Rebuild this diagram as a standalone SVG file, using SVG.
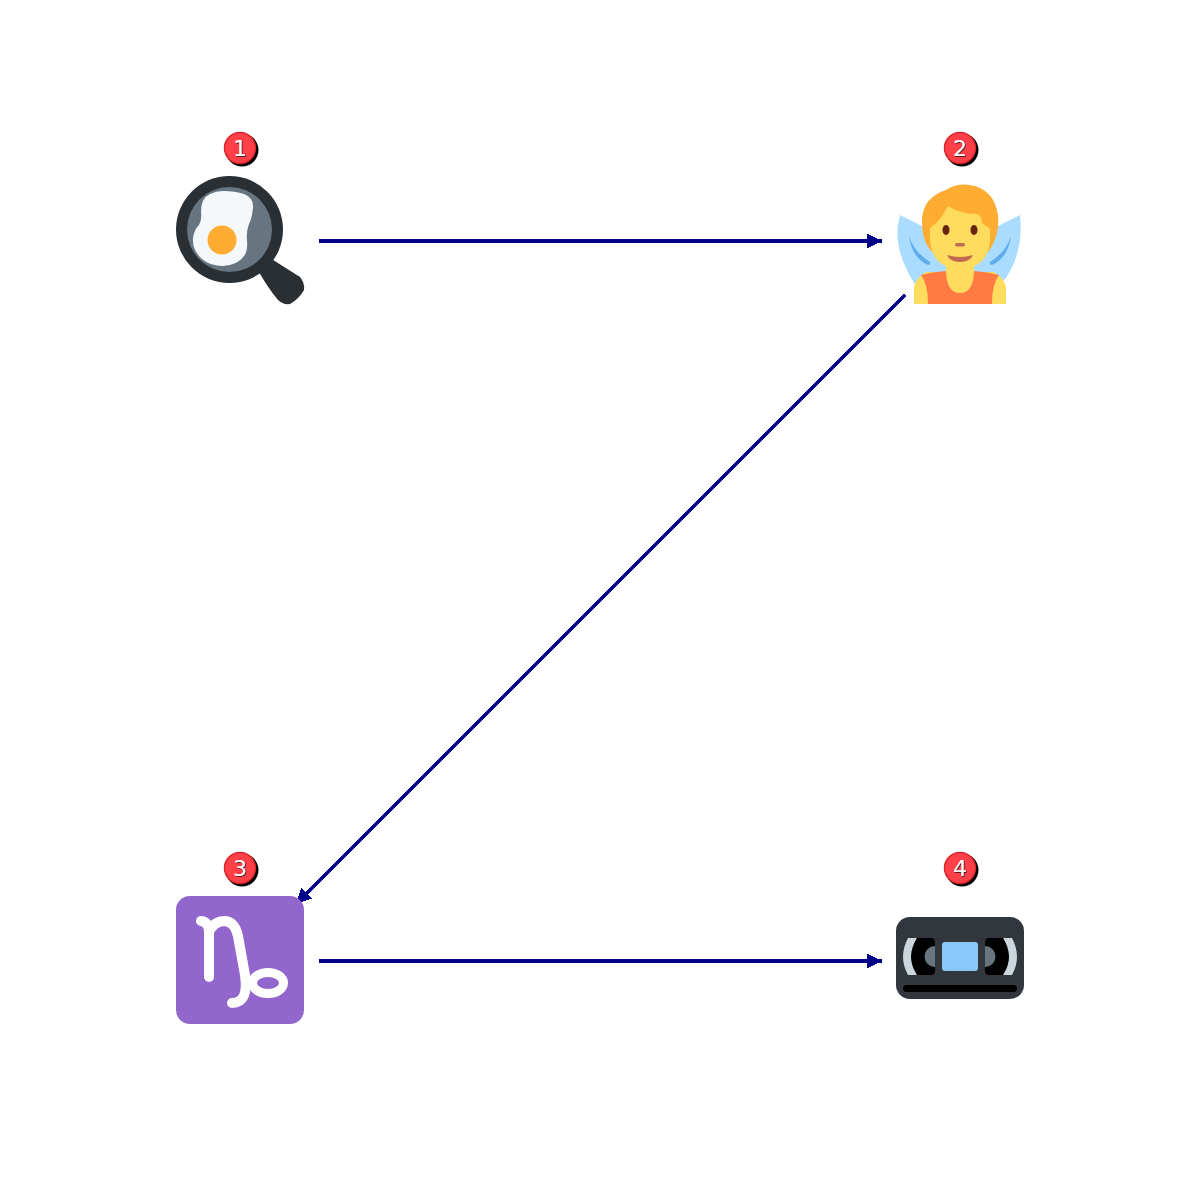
<svg xmlns="http://www.w3.org/2000/svg" width="1200" height="1200" viewBox="0 0 1200 1200">
<style>
.edge{fill:none;stroke:#00008b;stroke-width:3.5;shape-rendering:crispEdges}
.head{fill:#00008b;shape-rendering:crispEdges}
.badge{fill:#ff4049;stroke:#d9242c;stroke-width:1.5}
.shadow{fill:#000}
.num{font:22px "DejaVu Sans",sans-serif;fill:#fff;text-anchor:middle;filter:url(#ts)}
</style>
<defs>
<filter id="ts" x="-50%" y="-50%" width="200%" height="200%"><feDropShadow dx="0.800" dy="0.800" stdDeviation="0.300" flood-color="#000" flood-opacity="0.800"/></filter>
<marker id="arrow" markerUnits="userSpaceOnUse" markerWidth="16" markerHeight="16" refX="15" refY="7.500" orient="auto"><path class="head" d="M0 0L15 7.500L0 15z"/></marker>
<g id="badge"><circle class="shadow" cx="2" cy="2" r="16.500"/><circle class="badge" r="15.500"/></g>
</defs>
<rect width="1200" height="1200" fill="#fff"/>
<g id="connectors">
<path class="edge" d="M319 241H882" marker-end="url(#arrow)"/>
<path class="edge" d="M905 295L296 904" marker-end="url(#arrow)"/>
<path class="edge" d="M319 961H882" marker-end="url(#arrow)"/>
</g>
<g id="node1">
<path d="M270 258L300 277Q305 283 304 290Q299 299 290 304Q283 305 278 300Q268 288 259 272z" fill="#292f33"/>
<circle cx="229.500" cy="229.500" r="53.500" fill="#292f33"/>
<circle cx="229.500" cy="229.500" r="42.500" fill="#66757f"/>
<path d="M223 191Q235 191 244 194Q254 198 253 208Q252 218 249 224Q246 232 247 240Q248 251 244 256Q238 265 223 266Q210 266 202 259Q192 250 193 238Q194 230 199 225Q202 220 201 212Q201 198 210 194Q216 191 223 191z" fill="#f5f8fa"/>
<circle cx="222" cy="240" r="14.500" fill="#ffac33"/>
<use href="#badge" x="240" y="148"/><text class="num" x="240" y="156">1</text>
</g>
<g id="node2">
<path d="M900 215L926 228H994L1020 215Q1024 250 1006 278L994 290H926L914 283Q894 250 898 225z" fill="#aadcff"/>
<path d="M909 236Q914 252 930 262Q931 265 928 265Q912 258 909 236zM1011 236Q1006 252 990 262Q989 265 992 265Q1008 258 1011 236z" fill="#5dadec"/>
<path d="M914 304V287Q916 278 926 272H994Q1004 278 1006 287V304z" fill="#ffdc5d"/>
<path d="M928 304Q928 284 921 275Q932 272 946 271H974Q988 272 999 275Q992 284 992 304z" fill="#ff7b43"/>
<path d="M946 260V272Q947 293 960 293Q973 293 974 272V260z" fill="#ffdc5d"/>
<path d="M932 252Q921 240 922 218Q924 197 946 190Q957 183 970 185Q994 189 998 215Q1000 236 988 252z" fill="#ffac33"/>
<path d="M930 228Q940 222 948 206Q960 214 977 214Q982 216 982 223L990 229V240Q988 268 960 269Q932 268 930 240z" fill="#ffdc5d"/>
<ellipse cx="946" cy="230" rx="3.500" ry="5" fill="#662113"/>
<ellipse cx="974" cy="230" rx="3.500" ry="5" fill="#662113"/>
<rect x="955" y="243" width="10" height="3.500" rx="1.750" fill="#c1694f"/>
<path d="M947 255Q960 259 973 255Q970 262 960 262Q950 262 947 255z" fill="#c1694f"/>
<use href="#badge" x="960" y="148"/><text class="num" x="960" y="156">2</text>
</g>
<g id="node3">
<rect x="176" y="896" width="128" height="128" rx="14" fill="#9266cc"/>
<g fill="none" stroke="#fff" stroke-linecap="round">
<path d="M201 921Q209 922 209 932V977M209 932Q214 921 225 921Q235 922 238 936L245 975Q249 1003 232 1003" stroke-width="10"/>
<ellipse cx="268" cy="983" rx="15.500" ry="10.500" stroke-width="9"/>
</g>
<use href="#badge" x="240" y="868"/><text class="num" x="240" y="876">3</text>
</g>
<g id="node4">
<rect x="896" y="917" width="128" height="82" rx="14" fill="#31373d"/>
<path d="M908 938H917Q909 957 917 975H908Q898 957 908 938zM1012 938H1003Q1011 957 1003 975H1012Q1022 957 1012 938z" fill="#ccd6dd"/>
<path d="M917 938H931Q935 938 935 942V971Q935 975 931 975H917Q905 957 917 938zM1003 938H989Q985 938 985 942V971Q985 975 989 975H1003Q1015 957 1003 938z" fill="#000"/>
<path d="M935 946A10.500 10.500 0 0 0 935 967zM985 946A10.500 10.500 0 0 1 985 967z" fill="#66757f"/>
<rect x="942" y="942" width="36" height="29" rx="3" fill="#88c9f9"/>
<rect x="903" y="985" width="114" height="7" rx="3.500" fill="#000"/>
<use href="#badge" x="960" y="868"/><text class="num" x="960" y="876">4</text>
</g>
</svg>
